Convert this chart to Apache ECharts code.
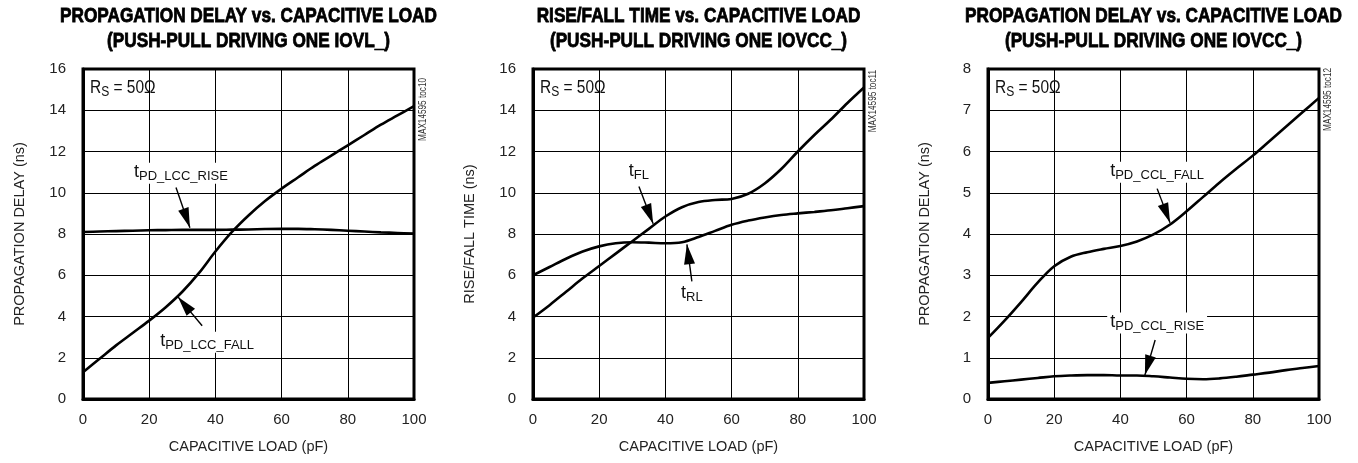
<!DOCTYPE html>
<html>
<head>
<meta charset="UTF-8">
<title>Propagation delay / rise-fall time vs capacitive load</title>
<script src="https://cdn.jsdelivr.net/npm/echarts@6/dist/echarts.min.js"></script>
<style>
  html,body{margin:0;padding:0;width:100%;height:100%;background:#fff;overflow:hidden;}
  #chart{position:absolute;left:0;top:0;width:1358px;height:463px;}
</style>
</head>
<body>
<div id="chart"></div>
<script>
/* ==== data (x = capacitive load, pF) ==== */
const loadPF  = [0,5,10,15,20,25,30,35,40,45,50,55,60,65,70,75,80,85,90,95,100];

const lccFall = [1.3,1.95,2.6,3.2,3.8,4.45,5.2,6.1,7.15,8.1,8.9,9.6,10.2,10.75,11.3,11.8,12.3,12.8,13.3,13.75,14.2];
const lccRise = [8.1,8.12,8.14,8.16,8.18,8.19,8.2,8.2,8.2,8.21,8.22,8.24,8.25,8.25,8.23,8.2,8.16,8.12,8.08,8.05,8.02];

const riseFL  = [3.95,4.55,5.2,5.85,6.45,7.05,7.65,8.25,8.85,9.3,9.55,9.65,9.7,9.95,10.45,11.15,12.0,12.8,13.55,14.35,15.1];
const riseRL  = [6.0,6.4,6.8,7.15,7.4,7.55,7.6,7.58,7.55,7.6,7.85,8.15,8.45,8.65,8.8,8.92,9.0,9.07,9.15,9.25,9.35];

const cclFall = [1.48,1.9,2.35,2.82,3.22,3.45,3.56,3.64,3.71,3.82,3.99,4.23,4.55,4.9,5.25,5.58,5.9,6.25,6.6,6.95,7.3];
const cclRise = [0.39,0.43,0.47,0.51,0.55,0.57,0.58,0.58,0.57,0.57,0.55,0.52,0.49,0.48,0.5,0.54,0.59,0.64,0.7,0.75,0.8];

/* callouts: label centre + arrow (from -> to), in data units */
const lccNotes = [
  {t:'t', s:'PD_LCC_RISE', at:[29.6,10.95], from:[28.1,10.25], to:[32.3,8.3]},
  {t:'t', s:'PD_LCC_FALL', at:[37.5,2.75],  from:[36.0,3.55],  to:[28.7,4.95]}
];
const rfNotes = [
  {t:'t', s:'FL', at:[32.0,11.0], from:[32.0,10.3], to:[36.3,8.5]},
  {t:'t', s:'RL', at:[48.0,5.05], from:[48.0,5.7],  to:[46.5,7.5]}
];
const cclNotes = [
  {t:'t', s:'PD_CCL_FALL', at:[51.1,5.5],  from:[51.1,5.1],  to:[55.0,4.27]},
  {t:'t', s:'PD_CCL_RISE', at:[51.1,1.84], from:[50.5,1.43], to:[47.4,0.58]}
];

const titles = [
  'PROPAGATION DELAY vs. CAPACITIVE LOAD\n(PUSH-PULL DRIVING ONE IOVL_)',
  'RISE/FALL TIME vs. CAPACITIVE LOAD\n(PUSH-PULL DRIVING ONE IOVCC_)',
  'PROPAGATION DELAY vs. CAPACITIVE LOAD\n(PUSH-PULL DRIVING ONE IOVCC_)'
];
const yNames = ['PROPAGATION DELAY (ns)','RISE/FALL TIME (ns)','PROPAGATION DELAY (ns)'];
const yMax   = [16,16,8];
const yStep  = [2,2,1];
const tocIds = ['MAX14595 toc10','MAX14595 toc11','MAX14595 toc12'];
const curves = [[lccFall,lccRise],[riseFL,riseRL],[cclFall,cclRise]];
const notes  = [lccNotes, rfNotes, cclNotes];

/* ==== layout ==== */
const FONT = '"Liberation Sans","Arial",sans-serif';
const NARROW = 0.86;   // no condensed face installed, squeeze graphic texts instead
const gridLeft = [83,533,988];
const gridTop = 69, gridW = 331, gridH = 330;
const tocTop = [78,70,68];

const subRich = {
  t:{fontFamily:FONT,fontSize:18,color:'#111',lineHeight:19,verticalAlign:'bottom',padding:[0,0,2,0]},
  s:{fontFamily:FONT,fontSize:13,color:'#111',lineHeight:14,verticalAlign:'bottom'}
};

const option = {animation:false, grid:[], xAxis:[], yAxis:[], series:[], graphic:[]};

titles.forEach((title,i)=>{
  option.grid.push({left:gridLeft[i],top:gridTop,width:gridW,height:gridH,show:true,
    borderColor:'#000',borderWidth:3,backgroundColor:'transparent'});

  option.xAxis.push({type:'value',gridIndex:i,min:0,max:100,interval:20,
    name:'CAPACITIVE LOAD (pF)',nameLocation:'middle',nameGap:40,
    nameTextStyle:{fontFamily:FONT,fontSize:14.5,color:'#222'},
    axisLine:{lineStyle:{color:'#000',width:3}},axisTick:{show:false},
    axisLabel:{fontFamily:FONT,fontSize:15,color:'#222',margin:13},
    splitLine:{lineStyle:{color:'#000',width:1}}});

  option.yAxis.push({type:'value',gridIndex:i,min:0,max:yMax[i],interval:yStep[i],
    name:yNames[i],nameLocation:'middle',nameGap:56,nameRotate:90,
    nameTextStyle:{fontFamily:FONT,fontSize:14.5,color:'#222'},
    axisLine:{lineStyle:{color:'#000',width:3}},axisTick:{show:false},
    axisLabel:{fontFamily:FONT,fontSize:15,color:'#222',margin:17},
    splitLine:{lineStyle:{color:'#000',width:1}}});

  curves[i].forEach((vals,k)=>{
    const s = {type:'line',xAxisIndex:i,yAxisIndex:i,silent:true,
      data:loadPF.map((x,j)=>[x,vals[j]]),
      smooth:0.35,showSymbol:false,symbol:'none',
      lineStyle:{color:'#000',width:2.6},z:3};
    if(k===0){
      s.markLine = {silent:true,symbol:['none','triangle'],label:{show:false},
        lineStyle:{color:'#000',width:1.4,type:'solid'},
        data:notes[i].map(n=>[
          {coord:n.from,symbol:'none'},
          {coord:n.to,symbol:'triangle',symbolSize:[11,20],symbolOffset:[0,10]}
        ])};
      s.markPoint = {silent:true,symbol:'rect',symbolSize:1,itemStyle:{color:'rgba(0,0,0,0)'},
        label:{show:true,position:'inside',backgroundColor:'#fff',padding:[1,3],rich:subRich},
        data:notes[i].map(n=>({coord:n.at,label:{formatter:`{t|${n.t}}{s|${n.s}}`}}))};
    }
    option.series.push(s);
  });

  // title (two lines)
  option.graphic.push({type:'text',x:gridLeft[i]+gridW/2,y:3.5,scaleX:NARROW,silent:true,
    style:{text:title,font:`bold 20px ${FONT}`,fill:'#000',stroke:'#000',lineWidth:0.8,
      lineHeight:25,align:'center',textAlign:'center',verticalAlign:'top',textVerticalAlign:'top'}});
  // part id along the right edge
  option.graphic.push({type:'text',x:gridLeft[i]+gridW+9,y:tocTop[i],rotation:Math.PI/2,scaleX:0.82,silent:true,
    style:{text:tocIds[i],font:`10px ${FONT}`,fill:'#333',
      align:'right',textAlign:'right',verticalAlign:'middle',textVerticalAlign:'middle'}});
  // test condition
  option.graphic.push({type:'text',x:gridLeft[i]+7,y:90,scaleX:NARROW,silent:true,z:10,
    style:{text:'{r|R}{s|S}{r| = 50Ω}',verticalAlign:'middle',textVerticalAlign:'middle',
      rich:{
        r:{fontFamily:FONT,fontSize:18,fill:'#111',color:'#111',lineHeight:19,verticalAlign:'bottom',padding:[0,0,2,0]},
        s:{fontFamily:FONT,fontSize:14,fill:'#111',color:'#111',lineHeight:15,verticalAlign:'bottom'}
      }}});
});

const chart = echarts.init(document.getElementById('chart'));
chart.setOption(option);
</script>
</body>
</html>
